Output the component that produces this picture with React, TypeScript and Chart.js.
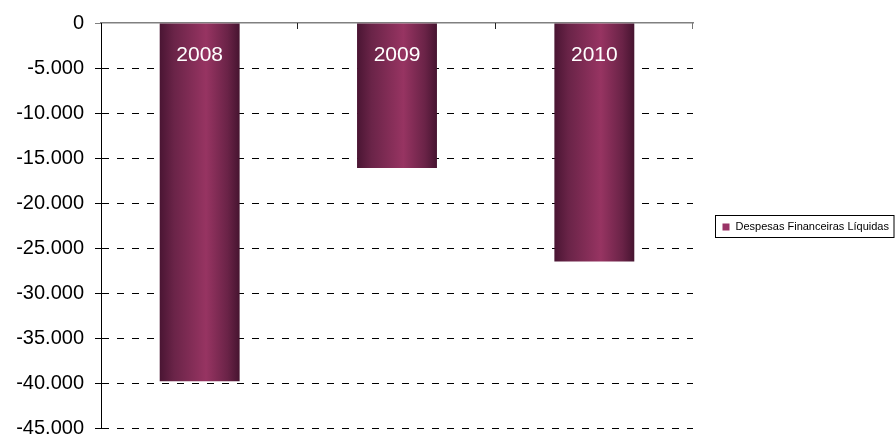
import React, { useEffect, useRef } from "react";
import { Chart, registerables } from "chart.js";

Chart.register(...registerables);

const categories = ["2008", "2009", "2010"];
const seriesName = "Despesas Financeiras Líquidas";
const seriesValues = [-39800, -16100, -26500];
const yMin = -45000;
const yMax = 0;
const yStep = 5000;

const BAR_PCT = 0.405;
const FONT = "'Liberation Sans', Arial, sans-serif";

function fmt(v: number): string {
  const neg = v < 0;
  const s = Math.abs(Math.round(v)).toString().replace(/\B(?=(\d{3})+(?!\d))/g, ".");
  return (neg ? "-" : "") + s;
}

const overlayPlugin = {
  id: "overlay",
  afterDatasetsDraw(chart: any) {
    const { ctx, chartArea } = chart;
    const xs = chart.scales.x;
    const ys = chart.scales.y;
    ctx.save();
    ctx.fillStyle = "#ffffff";
    ctx.font = `21px ${FONT}`;
    ctx.textAlign = "center";
    ctx.textBaseline = "middle";
    categories.forEach((c, i) => {
      ctx.fillText(c, xs.getPixelForValue(i), ys.getPixelForValue(0) + 32);
    });
    const n = categories.length;
    ctx.lineWidth = 1;
    for (let k = 1; k <= n; k++) {
      const x = Math.round(xs.left + (k * xs.width) / n) - 0.5;
      ctx.strokeStyle = k === n ? "#777" : "#222";
      ctx.beginPath();
      ctx.moveTo(x, chartArea.top);
      ctx.lineTo(x, chartArea.top + 6);
      ctx.stroke();
    }
    ctx.restore();
  },
  afterDraw(chart: any) {
    const { ctx, chartArea, width } = chart;
    ctx.save();
    const bx = chartArea.right + 22.5;
    const bw = width - 2 - bx;
    const bh = 22;
    const cy = (chartArea.top + chartArea.bottom) / 2;
    const by = Math.round(cy - bh / 2) + 0.5;
    ctx.strokeStyle = "#000";
    ctx.lineWidth = 1;
    ctx.strokeRect(bx, by, bw, bh);
    ctx.fillStyle = "#993366";
    ctx.fillRect(bx + 7, by + 8, 7, 7);
    ctx.fillStyle = "#000";
    ctx.font = `11px ${FONT}`;
    ctx.textAlign = "left";
    ctx.textBaseline = "middle";
    ctx.fillText(seriesName, bx + 20, by + bh / 2 + 0.5);
    ctx.restore();
  },
};

export default function App() {
  const ref = useRef<HTMLCanvasElement | null>(null);

  useEffect(() => {
    if (!ref.current) return;
    Chart.defaults.font.family = FONT;
    const chart = new Chart(ref.current, {
      type: "bar",
      data: {
        labels: categories,
        datasets: [
          {
            label: seriesName,
            data: seriesValues,
            categoryPercentage: 1,
            barPercentage: BAR_PCT,
            borderWidth: 0,
            backgroundColor: (ctx: any) => {
              const chart = ctx.chart;
              const xs = chart.scales?.x;
              if (!chart.chartArea || !xs || ctx.dataIndex === undefined) return "#8b2d5a";
              const cx = xs.getPixelForValue(ctx.dataIndex);
              const w = (xs.width / categories.length) * BAR_PCT;
              const g = chart.ctx.createLinearGradient(cx - w / 2, 0, cx + w / 2, 0);
              g.addColorStop(0, "#4a1533");
              g.addColorStop(0.18, "#6a2448");
              g.addColorStop(0.58, "#973462");
              g.addColorStop(0.85, "#6a2347");
              g.addColorStop(1, "#461430");
              return g;
            },
          },
        ],
      },
      options: {
        animation: false,
        responsive: true,
        maintainAspectRatio: false,
        layout: { padding: { left: 0, top: 0, right: 203, bottom: 9 } },
        plugins: {
          legend: { display: false },
          tooltip: { enabled: false },
        },
        scales: {
          x: {
            type: "category",
            position: "top",
            offset: true,
            ticks: { display: false },
            grid: { display: true, drawOnChartArea: false, drawTicks: false },
            border: { display: true, color: "#808080", width: 1.5 },
            afterFit: (s: any) => {
              s.height = 23;
              s.paddingLeft = 0;
              s.paddingRight = 0;
            },
          },
          y: {
            min: yMin,
            max: yMax,
            ticks: {
              stepSize: yStep,
              color: "#000",
              padding: 11,
              font: { size: 20, family: FONT },
              callback: (v: any) => fmt(Number(v)),
            },
            grid: {
              color: (c: any) => (c.tick && c.tick.value === 0 ? "rgba(0,0,0,0)" : "#000"),
              lineWidth: 1,
              tickLength: 6,
              tickColor: (c: any) => (c.tick && c.tick.value === 0 ? "#808080" : "#000"),
              tickBorderDash: [],
            },
            border: { display: true, color: "#000", width: 1, dash: [7, 8] },
            afterFit: (s: any) => {
              s.width = 101;
              s.paddingTop = 0;
              s.paddingBottom = 0;
            },
          },
        },
      },
      plugins: [overlayPlugin],
    } as any);
    return () => chart.destroy();
  }, []);

  return (
    <div style={{ position: "fixed", left: 0, top: 0, width: 896, height: 437, background: "#fff" }}>
      <canvas ref={ref} />
    </div>
  );
}
